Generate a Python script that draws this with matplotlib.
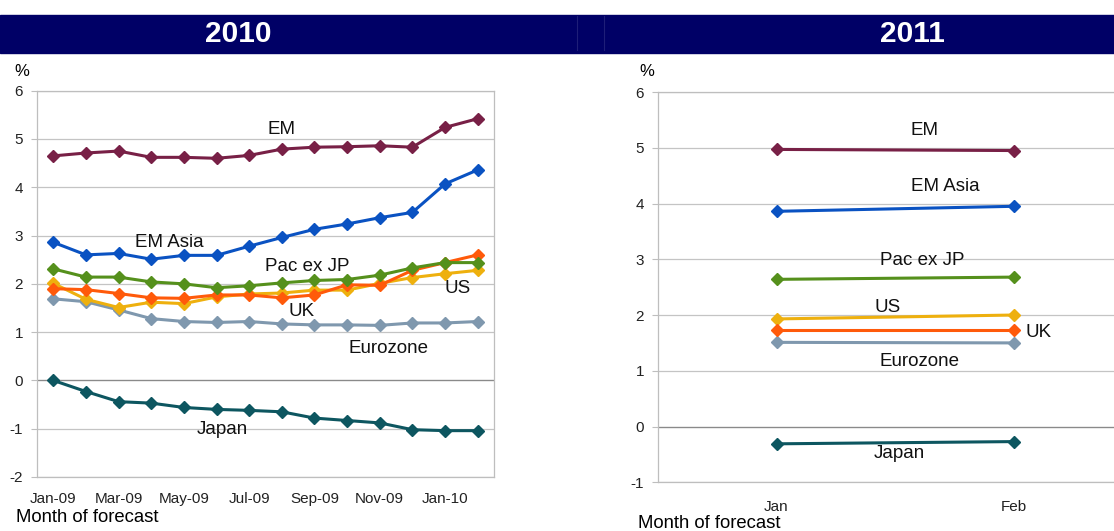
import numpy as np
import matplotlib
matplotlib.use("Agg")
import matplotlib.pyplot as plt

plt.rcParams['font.family'] = ['Liberation Sans', 'DejaVu Sans']
plt.rcParams['axes.unicode_minus'] = False

# ---- data: 2010 forecasts, by month of forecast ----
months_2010 = ['Jan-09', 'Feb-09', 'Mar-09', 'Apr-09', 'May-09', 'Jun-09', 'Jul-09',
               'Aug-09', 'Sep-09', 'Oct-09', 'Nov-09', 'Dec-09', 'Jan-10', 'Feb-10']
em_2010 = [4.65, 4.71, 4.75, 4.62, 4.62, 4.60, 4.66, 4.79, 4.83, 4.84, 4.86, 4.83, 5.24, 5.42]
em_asia_2010 = [2.86, 2.60, 2.63, 2.51, 2.59, 2.59, 2.78, 2.96, 3.13, 3.24, 3.37, 3.48, 4.07, 4.36]
pac_2010 = [2.31, 2.14, 2.14, 2.04, 2.00, 1.92, 1.96, 2.02, 2.07, 2.09, 2.18, 2.33, 2.44, 2.44]
us_2010 = [2.01, 1.68, 1.51, 1.62, 1.59, 1.73, 1.79, 1.81, 1.87, 1.87, 2.01, 2.13, 2.21, 2.28]
uk_2010 = [1.90, 1.88, 1.80, 1.71, 1.70, 1.77, 1.77, 1.71, 1.77, 1.98, 1.97, 2.28, 2.44, 2.60]
ez_2010 = [1.69, 1.63, 1.46, 1.28, 1.22, 1.20, 1.22, 1.17, 1.15, 1.15, 1.14, 1.19, 1.19, 1.22]
japan_2010 = [0.00, -0.23, -0.44, -0.47, -0.56, -0.60, -0.62, -0.65, -0.78, -0.83, -0.88, -1.02, -1.04, -1.04]

# ---- data: 2011 forecasts ----
months_2011 = ['Jan', 'Feb']
em_2011 = [4.97, 4.95]
em_asia_2011 = [3.86, 3.95]
pac_2011 = [2.64, 2.68]
us_2011 = [1.93, 2.00]
uk_2011 = [1.73, 1.73]
ez_2011 = [1.51, 1.50]
japan_2011 = [-0.31, -0.27]

names = ['EM', 'EM Asia', 'Pac ex JP', 'US', 'UK', 'Eurozone', 'Japan']
colors = ['#782046', '#0A52C2', '#55901C', '#EEB00E', '#FF5A0A', '#7F98AE', '#0D5660']

# label positions (category index, value)
lab_2010 = [(6.99, 5.20), (3.55, 2.85), (7.77, 2.36), (12.4, 1.91), (7.6, 1.43), (10.28, 0.67), (5.17, -1.02)]
lab_2011 = [(0.625, 5.31), (0.714, 4.31), (0.613, 2.98), (0.469, 2.14), (1.107, 1.69), (0.604, 1.17), (0.52, -0.49)]

series_2010 = [em_2010, em_asia_2010, pac_2010, us_2010, uk_2010, ez_2010, japan_2010]
series_2011 = [em_2011, em_asia_2011, pac_2011, us_2011, uk_2011, ez_2011, japan_2011]
draw_order = [5, 3, 4, 2, 1, 0, 6]

fig = plt.figure(figsize=(11.14, 5.31), dpi=100)

# header bars
navy = '#000066'
fig.patches.append(plt.Rectangle((0, 1 - 52.5 / 531), 1, 37.5 / 531, transform=fig.transFigure,
                                 color=navy, zorder=0))
for xp in [577, 604]:
    fig.add_artist(plt.Line2D([xp / 1114, xp / 1114], [1 - 50 / 531, 1 - 15.5 / 531],
                              transform=fig.transFigure, color='#1E1E78', lw=0.8))
fig.text(238 / 1114, 1 - 34 / 531, '2010', color='white', fontsize=21.5, fontweight='bold',
         ha='center', va='center')
fig.text(912 / 1114, 1 - 34 / 531, '2011', color='white', fontsize=21.5, fontweight='bold',
         ha='center', va='center')


def style_axes(ax, ymin, ymax):
    ax.set_ylim(ymin, ymax)
    ax.set_yticks(range(ymin, ymax + 1))
    ax.grid(axis='y', color='#C4C4C4', lw=0.9, zorder=0)
    ax.axhline(0, color='#8A8A8A', lw=0.9, zorder=1)
    for s in ax.spines.values():
        s.set_color('#BEBEBE')
        s.set_linewidth(0.9)
    ax.tick_params(axis='y', length=4, color='#BEBEBE', pad=6, labelsize=11, labelcolor='#222222')
    ax.tick_params(axis='x', length=0, labelsize=11, labelcolor='#222222')
    ax.set_axisbelow(True)


# ---- left: 2010 ----
ax1 = fig.add_axes([37 / 1114, 1 - 477 / 531, 457 / 1114, 386.3 / 531])
x1 = np.arange(len(months_2010))
for i in draw_order:
    ax1.plot(x1, series_2010[i], color=colors[i], lw=2.2, marker='D', markersize=6, zorder=3)
for name, (lx, ly) in zip(names, lab_2010):
    ax1.text(lx, ly, name, fontsize=13.5, ha='center', va='center', color='#111111')
ax1.set_xlim(-0.5, len(months_2010) - 0.5)
style_axes(ax1, -2, 6)
ax1.set_xticks(x1[::2])
ax1.set_xticklabels(months_2010[::2])
ax1.tick_params(axis='x', pad=11)
fig.text(22 / 1114, 1 - 72 / 531, '%', fontsize=12, ha='center', va='center')
fig.text(16 / 1114, 1 - 517 / 531, 'Month of forecast', fontsize=13.3, ha='left', va='center')

# ---- right: 2011 ----
ax2 = fig.add_axes([658 / 1114, 1 - 482.3 / 531, 474 / 1114, 390.3 / 531])
x2 = np.arange(len(months_2011))
for i in draw_order:
    ax2.plot(x2, series_2011[i], color=colors[i], lw=2.2, marker='D', markersize=6, zorder=3)
for name, (lx, ly) in zip(names, lab_2011):
    ax2.text(lx, ly, name, fontsize=13.5, ha='center', va='center', color='#111111')
ax2.set_xlim(-0.5, 1.5)
style_axes(ax2, -1, 6)
ax2.set_xticks(x2)
ax2.set_xticklabels(months_2011)
ax2.tick_params(axis='x', pad=13)
fig.text(647 / 1114, 1 - 72 / 531, '%', fontsize=12, ha='center', va='center')
fig.text(638 / 1114, 1 - 524 / 531, 'Month of forecast', fontsize=13.3, ha='left', va='center')

fig.savefig('out.png', dpi=100)
